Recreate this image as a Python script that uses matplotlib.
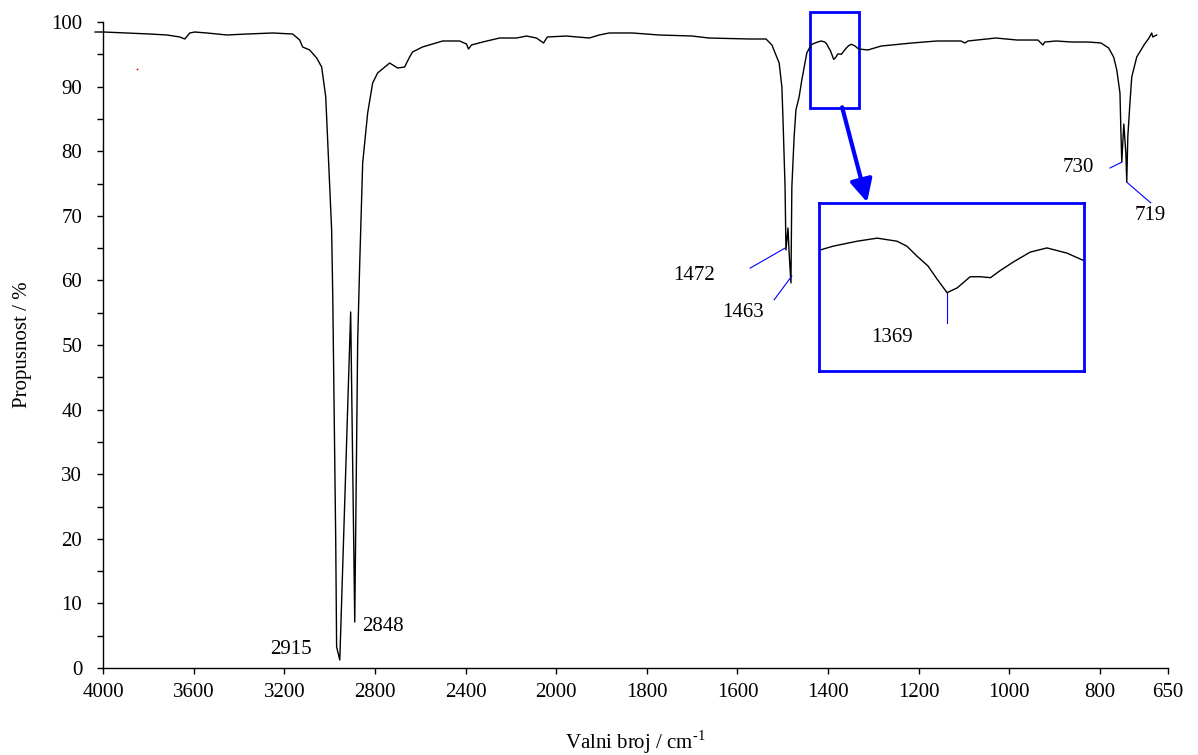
import numpy as np
import matplotlib
matplotlib.use("Agg")
import matplotlib.pyplot as plt
from matplotlib.patches import Rectangle

plt.rcParams['font.family'] = ['Liberation Serif', 'DejaVu Serif']
plt.rcParams['mathtext.fontset'] = 'custom'
plt.rcParams['mathtext.rm'] = 'Liberation Serif'

# IR spectrum: wavenumber (cm-1) and transmittance (%)
wn = [4035, 3996, 3894, 3793, 3718, 3661, 3639, 3617, 3595, 3542, 3453, 3365,
      3251, 3163, 3132, 3119, 3088, 3057, 3035, 3017, 3004, 2991, 2986, 2982,
      2973, 2969, 2955, 2911, 2907, 2889, 2876, 2867, 2854, 2832, 2810, 2788,
      2735, 2700, 2669, 2647, 2634, 2590, 2546, 2501, 2426, 2396, 2387, 2374,
      2325, 2250, 2175, 2131, 2087, 2056, 2039, 1978, 1927, 1905, 1883, 1832,
      1773, 1700, 1663, 1574, 1537, 1524, 1508, 1502, 1499.5, 1495, 1493, 1488.5,
      1486, 1482, 1480, 1475, 1471, 1464, 1458, 1447,
      1437.7, 1432.6, 1423.1, 1415.2, 1407.4, 1403.5, 1399.6, 1395.2, 1391.7,
      1387.7, 1383.7, 1378.6, 1374.6, 1370.6, 1366.9, 1361.6, 1355.0, 1348.4,
      1340.5, 1332.7,
      1312, 1283, 1215, 1160, 1107, 1098, 1091.5, 1030, 983, 937, 926, 922,
      897, 862, 825, 798, 781, 770, 763, 756, 754, 752, 747.5, 743, 741, 738.7,
      734, 730, 719, 703, 692, 686, 683.6, 675]
trans = [98.45, 98.45, 98.30, 98.14, 97.99, 97.68, 97.37, 98.30, 98.45, 98.30,
         97.99, 98.14, 98.30, 98.14, 97.21, 96.13, 95.67, 94.43, 93.03, 88.39,
         78.17, 67.80, 57.43, 46.13, 19.81, 3.25, 1.24, 50.77, 55.11, 7.12,
         50.77, 62.69, 78.17, 85.91, 90.56, 92.11, 93.65, 92.88, 93.03, 94.58,
         95.36, 96.13, 96.59, 97.06, 97.06, 96.59, 95.82, 96.44, 96.90, 97.52,
         97.52, 97.83, 97.52, 96.75, 97.68, 97.83, 97.52, 97.99, 98.30, 98.30,
         97.99, 97.83, 97.52, 97.37, 97.37, 96.44, 93.65, 89.94, 84.83, 74.46,
         64.71, 68.11, 64.24, 59.60, 74.46, 82.20, 86.38, 88.39, 91.02, 95.20,
         96.44, 96.64, 96.90, 97.06, 96.90, 96.64, 96.13, 95.61, 94.94,
         94.22, 94.47, 95.05, 95.05, 95.00, 95.36, 95.82, 96.33, 96.55,
         96.28, 95.82,
         95.67, 96.28, 96.75, 97.06, 97.06, 96.75, 97.06, 97.52, 97.21, 97.21,
         96.44, 96.90, 97.06, 96.90, 96.90, 96.75, 95.98, 94.58, 92.57, 89.01,
         83.28, 78.33, 84.21, 79.72, 75.23, 82.20, 87.46, 91.49, 94.58, 96.44,
         97.52, 98.30, 97.68, 97.99]

xticks = [4000, 3600, 3200, 2800, 2400, 2000, 1800, 1600, 1400, 1200, 1000, 800, 650]

# peak labels (text, wavenumber, T) and their blue leader lines
peak_labels = [("2915", 3171, 2.8), ("2848", 2766, 6.5), ("1472", 1696, 60.8),
               ("1463", 1588, 55.1), ("730", 847, 77.4), ("719", 690, 70.0)]
leaders = [((1572, 1495), (61.9, 65.0)), ((1519, 1480), (57.0, 60.7)),
           ((778, 752), (77.4, 78.3)), ((741, 688), (75.2, 72.0))]


def forward(w):
    w = np.asarray(w, dtype=float)
    return np.where(w >= 2000, w / 400.0, 5 + (w - 2000) / 200.0)


def inverse(x):
    x = np.asarray(x, dtype=float)
    return np.where(x >= 5, x * 400.0, 2000 + (x - 5) * 200.0)


fig = plt.figure(figsize=(11.98, 7.55), dpi=100)
ax = fig.add_axes([103 / 1198, 87 / 755, 1065 / 1198, 646 / 755])
ax.set_xscale('function', functions=(forward, inverse))
ax.plot(wn, trans, color='black', lw=1.0, clip_on=False)
ax.set_xlim(4000, 650)
ax.set_ylim(0, 100)
ax.set_xticks(xticks)
ax.set_xticklabels([str(t) for t in xticks])
ax.xaxis.set_minor_locator(matplotlib.ticker.NullLocator())
ax.set_yticks(range(0, 101, 10))
ax.set_yticks(range(5, 100, 10), minor=True)
for s in ['top', 'right']:
    ax.spines[s].set_visible(False)
for s in ['left', 'bottom']:
    ax.spines[s].set_linewidth(1.0)
ax.tick_params(axis='both', which='both', direction='out', length=4, width=1,
               labelsize=15)
ax.tick_params(axis='x', pad=7)
ax.tick_params(axis='y', pad=11)

ax.set_xlabel(r'Valni broj / cm$^{\text{-1}}$', fontsize=15)
ax.xaxis.set_label_coords(0.5, -0.094)
ax.set_ylabel('Propusnost / %', fontsize=15)
ax.yaxis.set_label_coords(-0.067, 0.5)

# tiny red speck in the original
ax.plot([3850], [92.7], marker='s', ms=1.2, color='red', mec='none')

for txt, x, y in peak_labels:
    ax.text(x, y, txt, fontsize=15, ha='center', va='center')
for xs, ys in leaders:
    ax.plot(xs, ys, color='blue', lw=0.8, clip_on=False)

# small box marking the zoomed region and the arrow to the inset
ax.add_patch(Rectangle((1332, 86.7), 108, 14.85, fill=False, edgecolor='blue',
                       lw=2, clip_on=False))
ax.annotate('', xy=(1314, 72.1), xytext=(1369, 86.8),
            arrowprops=dict(arrowstyle='-|>,head_length=0.9,head_width=0.45',
                            color='blue', lw=3, shrinkA=0, shrinkB=0,
                            mutation_scale=15))

# inset: same data, magnified
axi = fig.add_axes([819 / 1198, (755 - 371) / 755, 265 / 1198, 168 / 755])
axi.plot(wn, trans, color='black', lw=1.0)
axi.set_xlim(1438.1, 1333.8)
axi.set_ylim(90.14, 98.89)
axi.set_xticks([])
axi.set_yticks([])
for s in axi.spines.values():
    s.set_edgecolor('blue')
    s.set_linewidth(2)
axi.plot([1387.7, 1387.7], [94.22, 92.64], color='blue', lw=0.8)
axi.text(1409.3, 91.86, '1369', fontsize=15, ha='center', va='center')

fig.savefig('out.png', dpi=100)
